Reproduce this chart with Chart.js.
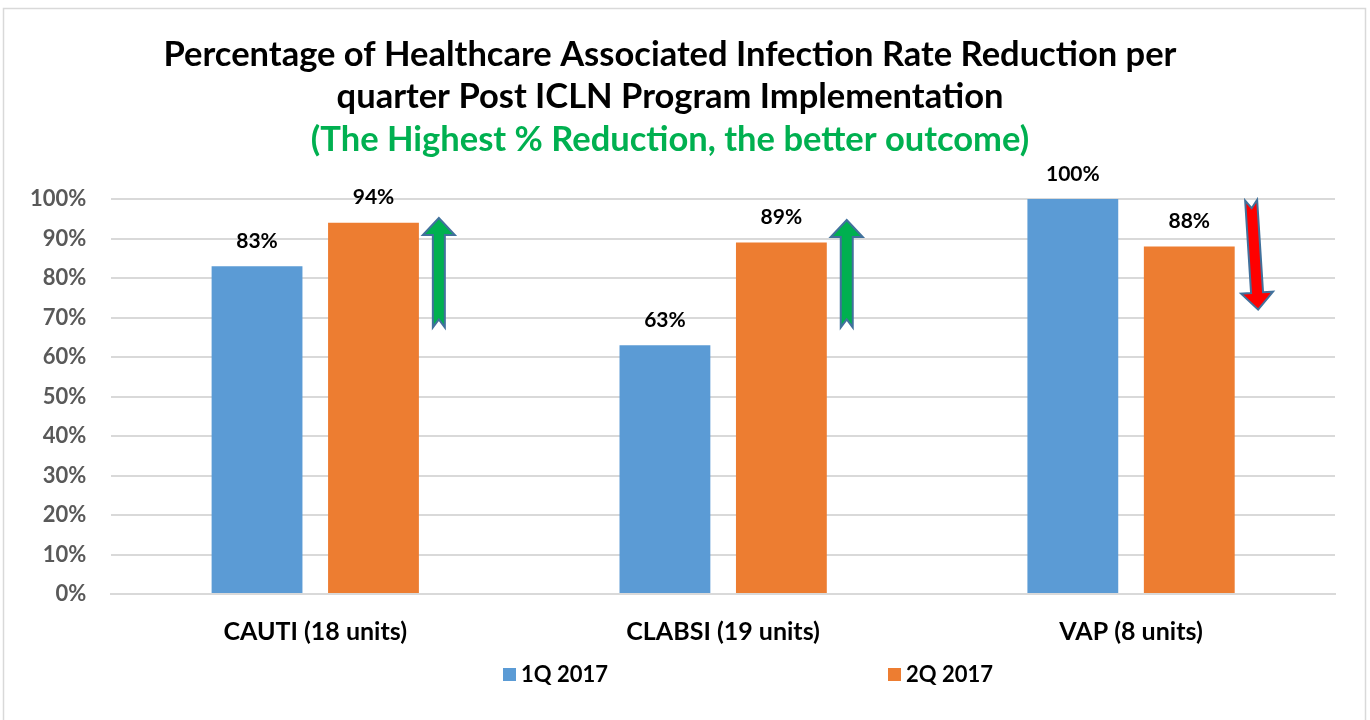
<!DOCTYPE html>
<html>
<head>
<meta charset="utf-8">
<script src="https://cdn.jsdelivr.net/npm/chart.js@4.4.1/dist/chart.umd.min.js"></script>
<style>
  html, body { margin: 0; padding: 0; background: #fff; }
  #wrap { width: 1370px; height: 720px; }
</style>
</head>
<body>
<div id="wrap"><canvas id="myChart"></canvas></div>
<script>
const categories = ['CAUTI (18 units)', 'CLABSI (19 units)', 'VAP (8 units)'];
const q1Values = [83, 63, 100];
const q2Values = [94, 89, 88];
const seriesNames = ['1Q 2017', '2Q 2017'];
const yTicks = [0, 10, 20, 30, 40, 50, 60, 70, 80, 90, 100];
// trend arrows: [category index, from %, to %, colour]
const trendArrows = [
  [0, 67.5, 95.2, '#00B050'],
  [1, 67.5, 94.7, '#00B050'],
  [2, 99.7, 72, '#FF0000']
];

const FONT = 'Lato, "Open Sans", sans-serif';
const BLUE = '#5B9BD5';
const ORANGE = '#ED7D31';

function drawArrow(ctx, x1, y1, x2, y2, fill) {
  const ang = Math.atan2(y2 - y1, x2 - x1);
  const len = Math.hypot(x2 - x1, y2 - y1);
  const sw = 6, hw = 16, hl = 17, notch = 8;
  ctx.save();
  ctx.translate(x1, y1);
  ctx.rotate(ang);
  ctx.beginPath();
  ctx.moveTo(0, -sw);
  ctx.lineTo(len - hl, -sw);
  ctx.lineTo(len - hl, -hw);
  ctx.lineTo(len, 0);
  ctx.lineTo(len - hl, hw);
  ctx.lineTo(len - hl, sw);
  ctx.lineTo(0, sw);
  ctx.lineTo(notch, 0);
  ctx.closePath();
  ctx.fillStyle = fill;
  ctx.fill();
  ctx.lineWidth = 2;
  ctx.strokeStyle = '#41719C';
  ctx.lineJoin = 'miter';
  ctx.stroke();
  ctx.restore();
}

const extras = {
  id: 'extras',
  beforeDraw(chart) {
    const ctx = chart.ctx;
    ctx.save();
    ctx.fillStyle = '#fff';
    ctx.fillRect(0, 0, chart.width, chart.height);
    ctx.strokeStyle = '#d9d9d9';
    ctx.lineWidth = 1.5;
    ctx.strokeRect(3.5, 8.5, 1362, 730);
    ctx.restore();
  },
  afterDatasetsDraw(chart) {
    const ctx = chart.ctx;
    const xs = chart.scales.x, ys = chart.scales.y;
    // data labels
    ctx.save();
    ctx.font = 'bold 21px ' + FONT;
    ctx.fillStyle = '#000';
    ctx.textAlign = 'center';
    ctx.textBaseline = 'middle';
    chart.data.datasets.forEach((ds, di) => {
      chart.getDatasetMeta(di).data.forEach((bar, i) => {
        ctx.fillText(ds.data[i] + '%', bar.x, bar.y - 25);
      });
    });
    ctx.restore();
    // arrows
    const catW = xs.width / categories.length;
    trendArrows.forEach(([ci, from, to, col]) => {
      const cx = xs.getPixelForValue(ci) + catW * 0.303;
      const slant = to < from ? 7 : 0;
      drawArrow(ctx, cx - slant / 2, ys.getPixelForValue(from), cx + slant / 2, ys.getPixelForValue(to), col);
    });
  },
  afterDraw(chart) {
    // legend
    const ctx = chart.ctx;
    const items = [[503, BLUE], [888, ORANGE]];
    ctx.save();
    ctx.font = 'bold 22px ' + FONT;
    ctx.textBaseline = 'middle';
    items.forEach(([x, c], i) => {
      ctx.fillStyle = c;
      ctx.fillRect(x, 668, 13, 13);
      ctx.fillStyle = '#000';
      ctx.fillText(seriesNames[i], x + 18, 675);
    });
    ctx.restore();
  }
};

new Chart(document.getElementById('myChart'), {
  type: 'bar',
  data: {
    labels: categories,
    datasets: [
      { label: seriesNames[0], data: q1Values, backgroundColor: BLUE },
      { label: seriesNames[1], data: q2Values, backgroundColor: ORANGE }
    ]
  },
  options: {
    responsive: true,
    maintainAspectRatio: false,
    animation: false,
    categoryPercentage: 0.571,
    barPercentage: 0.78,
    layout: { padding: { left: 5, right: 35, top: 0, bottom: 58 } },
    plugins: {
      legend: { display: false },
      tooltip: { enabled: false },
      title: {
        display: true,
        text: ['Percentage of Healthcare Associated Infection Rate Reduction per', 'quarter Post ICLN Program Implementation'],
        color: '#000',
        font: { family: FONT, size: 34.5, weight: 'bold', lineHeight: 1.24 },
        padding: { top: 33, bottom: 0 }
      },
      subtitle: {
        display: true,
        text: '(The Highest % Reduction, the better outcome)',
        color: '#00B050',
        font: { family: FONT, size: 34.5, weight: 'bold', lineHeight: 1.26 },
        padding: { top: 0, bottom: 37 }
      }
    },
    scales: {
      x: {
        grid: { display: false },
        border: { color: '#d9d9d9', width: 2 },
        ticks: { color: '#000', font: { family: FONT, size: 25, weight: 'bold' }, padding: 15 }
      },
      y: {
        min: 0,
        max: 100,
        afterBuildTicks(axis) { axis.ticks = yTicks.map(v => ({ value: v })); },
        grid: { color: '#d9d9d9', lineWidth: 2, drawTicks: false },
        border: { display: false },
        ticks: {
          color: '#595959',
          padding: 25,
          font: { family: FONT, size: 22, weight: 'bold' },
          callback: v => v + '%'
        }
      }
    }
  },
  plugins: [extras]
});
</script>
</body>
</html>
